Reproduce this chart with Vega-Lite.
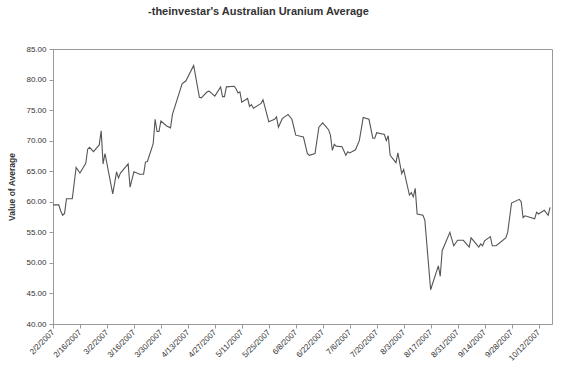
{
  "$schema": "https://vega.github.io/schema/vega-lite/v6.json",
  "autosize": {"type": "none"},
  "width": 499,
  "height": 275,
  "padding": {"left": 53, "top": 49, "right": 11, "bottom": 49},
  "background": "white",
  "config": {
    "font": "Liberation Sans",
    "view": {"stroke": "#9a9a9a", "strokeWidth": 1},
    "axis": {
      "grid": false,
      "domainColor": "#9a9a9a",
      "tickColor": "#9a9a9a",
      "labelColor": "#333",
      "titleColor": "#333",
      "labelFont": "Liberation Sans",
      "titleFont": "Liberation Sans"
    }
  },
  "title": {
    "text": "-theinvestar's Australian Uranium Average",
    "fontSize": 11,
    "fontWeight": "bold",
    "color": "#333",
    "font": "Liberation Sans",
    "frame": "group",
    "anchor": "middle",
    "dx": -44,
    "offset": 28
  },
  "data": {
    "values": [
      {"date": "2007-02-02", "value": 59.5},
      {"date": "2007-02-05", "value": 59.5},
      {"date": "2007-02-06", "value": 58.5},
      {"date": "2007-02-07", "value": 57.8},
      {"date": "2007-02-08", "value": 58.1},
      {"date": "2007-02-09", "value": 60.5},
      {"date": "2007-02-12", "value": 60.5},
      {"date": "2007-02-14", "value": 65.6},
      {"date": "2007-02-16", "value": 64.7},
      {"date": "2007-02-19", "value": 66.3},
      {"date": "2007-02-20", "value": 68.6},
      {"date": "2007-02-21", "value": 68.9},
      {"date": "2007-02-23", "value": 68.2},
      {"date": "2007-02-26", "value": 69.3},
      {"date": "2007-02-27", "value": 71.6},
      {"date": "2007-02-28", "value": 66.2},
      {"date": "2007-03-01", "value": 67.9},
      {"date": "2007-03-05", "value": 61.3},
      {"date": "2007-03-07", "value": 64.9},
      {"date": "2007-03-08", "value": 63.9},
      {"date": "2007-03-09", "value": 64.7},
      {"date": "2007-03-13", "value": 66.2},
      {"date": "2007-03-14", "value": 62.4},
      {"date": "2007-03-16", "value": 64.9},
      {"date": "2007-03-19", "value": 64.5},
      {"date": "2007-03-21", "value": 64.5},
      {"date": "2007-03-22", "value": 66.5},
      {"date": "2007-03-23", "value": 66.6},
      {"date": "2007-03-26", "value": 69.5},
      {"date": "2007-03-27", "value": 73.5},
      {"date": "2007-03-28", "value": 71.5},
      {"date": "2007-03-29", "value": 71.5},
      {"date": "2007-03-30", "value": 73.2},
      {"date": "2007-04-02", "value": 72.4},
      {"date": "2007-04-04", "value": 72.1},
      {"date": "2007-04-05", "value": 74.3},
      {"date": "2007-04-10", "value": 79.3},
      {"date": "2007-04-12", "value": 79.8},
      {"date": "2007-04-16", "value": 82.3},
      {"date": "2007-04-19", "value": 77.1},
      {"date": "2007-04-20", "value": 77.0},
      {"date": "2007-04-23", "value": 78.0},
      {"date": "2007-04-24", "value": 78.1},
      {"date": "2007-04-27", "value": 77.3},
      {"date": "2007-04-30", "value": 78.8},
      {"date": "2007-05-01", "value": 77.2},
      {"date": "2007-05-02", "value": 77.2},
      {"date": "2007-05-03", "value": 78.8},
      {"date": "2007-05-07", "value": 78.9},
      {"date": "2007-05-08", "value": 78.5},
      {"date": "2007-05-09", "value": 77.8},
      {"date": "2007-05-10", "value": 78.0},
      {"date": "2007-05-11", "value": 76.3},
      {"date": "2007-05-14", "value": 76.9},
      {"date": "2007-05-15", "value": 75.6},
      {"date": "2007-05-16", "value": 75.9},
      {"date": "2007-05-17", "value": 75.3},
      {"date": "2007-05-21", "value": 76.1},
      {"date": "2007-05-22", "value": 76.7},
      {"date": "2007-05-25", "value": 73.1},
      {"date": "2007-05-28", "value": 73.5},
      {"date": "2007-05-29", "value": 73.9},
      {"date": "2007-05-30", "value": 72.2},
      {"date": "2007-06-01", "value": 73.6},
      {"date": "2007-06-04", "value": 74.3},
      {"date": "2007-06-06", "value": 73.5},
      {"date": "2007-06-08", "value": 70.9},
      {"date": "2007-06-12", "value": 70.6},
      {"date": "2007-06-14", "value": 67.9},
      {"date": "2007-06-15", "value": 67.6},
      {"date": "2007-06-18", "value": 67.9},
      {"date": "2007-06-20", "value": 72.2},
      {"date": "2007-06-22", "value": 72.9},
      {"date": "2007-06-25", "value": 71.8},
      {"date": "2007-06-26", "value": 70.9},
      {"date": "2007-06-27", "value": 68.4},
      {"date": "2007-06-28", "value": 69.4},
      {"date": "2007-06-29", "value": 69.1},
      {"date": "2007-07-02", "value": 69.0},
      {"date": "2007-07-04", "value": 67.6},
      {"date": "2007-07-05", "value": 68.2},
      {"date": "2007-07-06", "value": 68.0},
      {"date": "2007-07-09", "value": 68.5},
      {"date": "2007-07-11", "value": 70.0},
      {"date": "2007-07-13", "value": 73.8},
      {"date": "2007-07-16", "value": 73.5},
      {"date": "2007-07-18", "value": 70.4},
      {"date": "2007-07-19", "value": 70.4},
      {"date": "2007-07-20", "value": 71.3},
      {"date": "2007-07-24", "value": 71.0},
      {"date": "2007-07-25", "value": 70.0},
      {"date": "2007-07-26", "value": 70.8},
      {"date": "2007-07-27", "value": 67.6},
      {"date": "2007-07-30", "value": 66.4},
      {"date": "2007-07-31", "value": 68.0},
      {"date": "2007-08-02", "value": 64.6},
      {"date": "2007-08-03", "value": 65.3},
      {"date": "2007-08-06", "value": 61.1},
      {"date": "2007-08-07", "value": 61.5},
      {"date": "2007-08-08", "value": 60.8},
      {"date": "2007-08-09", "value": 62.2},
      {"date": "2007-08-10", "value": 58.0},
      {"date": "2007-08-13", "value": 57.8},
      {"date": "2007-08-14", "value": 57.0},
      {"date": "2007-08-17", "value": 45.6},
      {"date": "2007-08-21", "value": 49.5},
      {"date": "2007-08-22", "value": 47.8},
      {"date": "2007-08-23", "value": 52.0},
      {"date": "2007-08-27", "value": 55.0},
      {"date": "2007-08-29", "value": 52.8},
      {"date": "2007-08-31", "value": 53.7},
      {"date": "2007-09-03", "value": 53.7},
      {"date": "2007-09-06", "value": 52.6},
      {"date": "2007-09-07", "value": 54.1},
      {"date": "2007-09-11", "value": 52.6},
      {"date": "2007-09-12", "value": 53.1},
      {"date": "2007-09-13", "value": 52.8},
      {"date": "2007-09-14", "value": 53.6},
      {"date": "2007-09-17", "value": 54.3},
      {"date": "2007-09-18", "value": 52.8},
      {"date": "2007-09-20", "value": 52.8},
      {"date": "2007-09-25", "value": 54.1},
      {"date": "2007-09-26", "value": 55.0},
      {"date": "2007-09-28", "value": 59.8},
      {"date": "2007-10-02", "value": 60.4},
      {"date": "2007-10-03", "value": 60.0},
      {"date": "2007-10-04", "value": 57.4},
      {"date": "2007-10-05", "value": 57.7},
      {"date": "2007-10-10", "value": 57.2},
      {"date": "2007-10-11", "value": 58.3},
      {"date": "2007-10-12", "value": 58.0},
      {"date": "2007-10-15", "value": 58.6},
      {"date": "2007-10-17", "value": 57.8},
      {"date": "2007-10-18", "value": 59.1}
    ]
  },
  "mark": {"type": "line", "color": "#555555", "strokeWidth": 1.1, "interpolate": "linear"},
  "encoding": {
    "x": {
      "field": "date",
      "type": "temporal",
      "scale": {
        "type": "utc",
        "domain": [
          {"year": 2007, "month": 2, "date": 2, "utc": true},
          {"year": 2007, "month": 10, "date": 19, "utc": true}
        ]
      },
      "axis": {
        "title": null,
        "format": "%-m/%-d/%Y",
        "values": [
          {"year": 2007, "month": 2, "date": 2, "utc": true},
          {"year": 2007, "month": 2, "date": 16, "utc": true},
          {"year": 2007, "month": 3, "date": 2, "utc": true},
          {"year": 2007, "month": 3, "date": 16, "utc": true},
          {"year": 2007, "month": 3, "date": 30, "utc": true},
          {"year": 2007, "month": 4, "date": 13, "utc": true},
          {"year": 2007, "month": 4, "date": 27, "utc": true},
          {"year": 2007, "month": 5, "date": 11, "utc": true},
          {"year": 2007, "month": 5, "date": 25, "utc": true},
          {"year": 2007, "month": 6, "date": 8, "utc": true},
          {"year": 2007, "month": 6, "date": 22, "utc": true},
          {"year": 2007, "month": 7, "date": 6, "utc": true},
          {"year": 2007, "month": 7, "date": 20, "utc": true},
          {"year": 2007, "month": 8, "date": 3, "utc": true},
          {"year": 2007, "month": 8, "date": 17, "utc": true},
          {"year": 2007, "month": 8, "date": 31, "utc": true},
          {"year": 2007, "month": 9, "date": 14, "utc": true},
          {"year": 2007, "month": 9, "date": 28, "utc": true},
          {"year": 2007, "month": 10, "date": 12, "utc": true}
        ],
        "labelAngle": -45,
        "labelAlign": "right",
        "labelBaseline": "middle",
        "labelFontSize": 8,
        "labelPadding": 3,
        "tickSize": 4,
        "labelOverlap": false,
        "labelFlush": false
      }
    },
    "y": {
      "field": "value",
      "type": "quantitative",
      "scale": {"domain": [40, 85], "nice": false, "zero": false},
      "axis": {
        "title": "Value of Average",
        "titleFontSize": 8.5,
        "titleFontWeight": "bold",
        "titlePadding": 9,
        "values": [40, 45, 50, 55, 60, 65, 70, 75, 80, 85],
        "format": ".2f",
        "labelFontSize": 8,
        "labelPadding": 3,
        "tickSize": 4
      }
    }
  }
}
